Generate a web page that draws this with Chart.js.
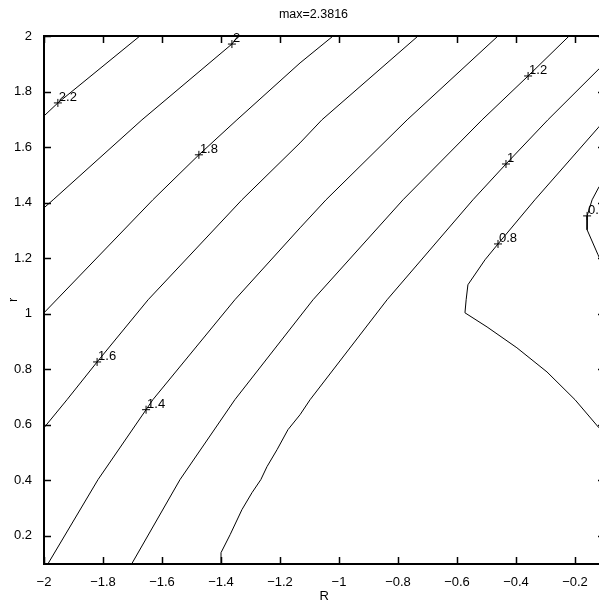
<!DOCTYPE html>
<html>
<head>
<meta charset="utf-8">
<script src="https://cdn.jsdelivr.net/npm/chart.js@4.4.1/dist/chart.umd.min.js"></script>
<style>
	html, body { margin: 0; padding: 0; background: #fff; overflow: hidden; }
	canvas { display: block; }
</style>
</head>
<body>
<canvas id="chart" width="640" height="607"></canvas>
<script>
// Contour lines, each point is [R, r]
const c22 = [[-2, 1.712], [-1.953, 1.759], [-1.675, 2]];
const c20 = [[-2, 1.381], [-1.969, 1.410], [-1.668, 1.698], [-1.363, 1.971], [-1.342, 2]];
const c18 = [[-2, 1.003], [-1.631, 1.410], [-1.475, 1.572], [-1.346, 1.698], [-1.132, 1.903], [-1.020, 2]];
const c16 = [[-2, 0.589], [-1.922, 0.690], [-1.820, 0.826], [-1.647, 1.050], [-1.329, 1.410], [-1.132, 1.615], [-1.058, 1.698], [-0.732, 2]];
const c14 = [[-1.986, 0.1], [-1.817, 0.402], [-1.654, 0.654], [-1.631, 0.690], [-1.353, 1.050], [-1.132, 1.309], [-1.044, 1.410], [-0.769, 1.698], [-0.461, 2]];
const c12 = [[-1.702, 0.1], [-1.539, 0.402], [-1.353, 0.690], [-1.088, 1.050], [-0.783, 1.410], [-0.515, 1.698], [-0.359, 1.856], [-0.220, 2]];
const c10 = [[-1.400, 0.1], [-1.400, 0.139], [-1.369, 0.204], [-1.329, 0.294], [-1.295, 0.355], [-1.265, 0.402], [-1.244, 0.449], [-1.210, 0.510], [-1.173, 0.582], [-1.132, 0.636], [-1.098, 0.690], [-0.837, 1.050], [-0.546, 1.410], [-0.434, 1.539], [-0.292, 1.698], [-0.122, 1.878], [-0.08, 1.92]];
const c08 = [[-0.08, 0.55], [-0.119, 0.589], [-0.200, 0.690], [-0.295, 0.790], [-0.397, 0.877], [-0.498, 0.952], [-0.573, 1.003], [-0.569, 1.050], [-0.563, 1.104], [-0.505, 1.194], [-0.461, 1.251], [-0.336, 1.410], [-0.122, 1.669], [-0.08, 1.72]];
const c06 = [[-0.09, 1.49], [-0.119, 1.456], [-0.142, 1.410], [-0.159, 1.352], [-0.159, 1.302], [-0.122, 1.212], [-0.09, 1.14]];

// Contour labels
const labelText = ['2.2', '2', '1.8', '1.6', '1.4', '1.2', '1', '0.8', '0.6'];
const labelX = [-1.953, -1.363, -1.475, -1.820, -1.654, -0.359, -0.434, -0.461, -0.159];
const labelR = [1.759, 1.971, 1.572, 0.826, 0.654, 1.856, 1.539, 1.251, 1.352];

const titleText = 'max=2.3816';

const font = '"Liberation Sans", Arial, Helvetica, sans-serif';
const contours = [c22, c20, c18, c16, c14, c12, c10, c08, c06];

const fmt = (v) => String(Math.round(v * 10) / 10).replace('-', '\u2212');

// Inward ticks on all four sides, the box, labels and title
const boxTicks = {
	id: 'boxTicks',
	afterDraw(chart) {
		const ctx = chart.ctx;
		const a = chart.chartArea;
		const xs = chart.scales.x;
		const ys = chart.scales.y;
		const L = Math.round(a.left), Rt = Math.round(a.right);
		const T = Math.round(a.top), B = Math.round(a.bottom);
		ctx.save();
		ctx.fillStyle = '#000';

		// box, 2px lines
		ctx.fillRect(L - 1, T - 1, Rt - L + 2, 2);
		ctx.fillRect(L - 1, B - 1, Rt - L + 2, 2);
		ctx.fillRect(L - 1, T - 1, 2, B - T + 2);
		ctx.fillRect(Rt - 1, T - 1, 2, B - T + 2);

		// ticks
		xs.ticks.forEach((t) => {
			const px = Math.round(xs.getPixelForValue(t.value));
			ctx.fillRect(px - 0.25, B - 7, 1.5, 6);
			ctx.fillRect(px - 0.25, T + 1, 1.5, 6);
		});
		ys.ticks.forEach((t) => {
			const py = Math.round(ys.getPixelForValue(t.value));
			ctx.fillRect(L + 1, py - 0.25, 6, 1.5);
			ctx.fillRect(Rt - 7, py - 0.25, 6, 1.5);
		});

		// contour labels
		ctx.font = '13px ' + font;
		ctx.textAlign = 'left';
		ctx.textBaseline = 'alphabetic';
		labelText.forEach((txt, i) => {
			const px = xs.getPixelForValue(labelX[i]);
			const py = ys.getPixelForValue(labelR[i]);
			ctx.fillText(txt, px + 1, py - 2);
		});

		// title
		ctx.font = '12.5px ' + font;
		ctx.textAlign = 'center';
		ctx.fillText(titleText, 313.5, 18);
		ctx.restore();
	}
};

const datasets = contours.map((c) => ({
	data: c.map((p) => ({ x: p[0], y: p[1] })),
	showLine: true,
	borderColor: '#000',
	borderWidth: 1,
	pointRadius: 0,
	tension: 0
}));

datasets.push({
	data: labelX.map((v, i) => ({ x: v, y: labelR[i] })),
	showLine: false,
	pointStyle: 'cross',
	pointRadius: 4,
	borderColor: '#000',
	borderWidth: 1
});

new Chart(document.getElementById('chart'), {
	type: 'scatter',
	data: { datasets },
	plugins: [boxTicks],
	options: {
		responsive: false,
		animation: false,
		events: [],
		layout: { padding: { left: 0, top: 36, right: 35.5, bottom: 0 } },
		plugins: {
			legend: { display: false },
			tooltip: { enabled: false }
		},
		scales: {
			x: {
				type: 'linear',
				min: -2,
				max: -0.1,
				afterFit: (s) => { s.height = 43.5; },
				grid: { display: false },
				border: { display: false },
				ticks: {
					stepSize: 0.2,
					includeBounds: false,
					maxRotation: 0,
					autoSkip: false,
					padding: 3,
					color: '#000',
					font: { family: font, size: 13 },
					callback: fmt
				},
				title: {
					display: true,
					text: 'R',
					color: '#000',
					font: { family: font, size: 13 },
					padding: { top: 0, bottom: 3 }
				}
			},
			y: {
				type: 'linear',
				min: 0.1,
				max: 2,
				afterFit: (s) => { s.width = 44; },
				grid: { display: false },
				border: { display: false },
				ticks: {
					stepSize: 0.2,
					includeBounds: false,
					autoSkip: false,
					padding: 4,
					color: '#000',
					font: { family: font, size: 13 },
					callback: fmt
				},
				title: {
					display: true,
					text: 'r',
					color: '#000',
					font: { family: font, size: 13 },
					padding: { top: 6, bottom: 0 }
				}
			}
		}
	}
});
</script>
</body>
</html>
